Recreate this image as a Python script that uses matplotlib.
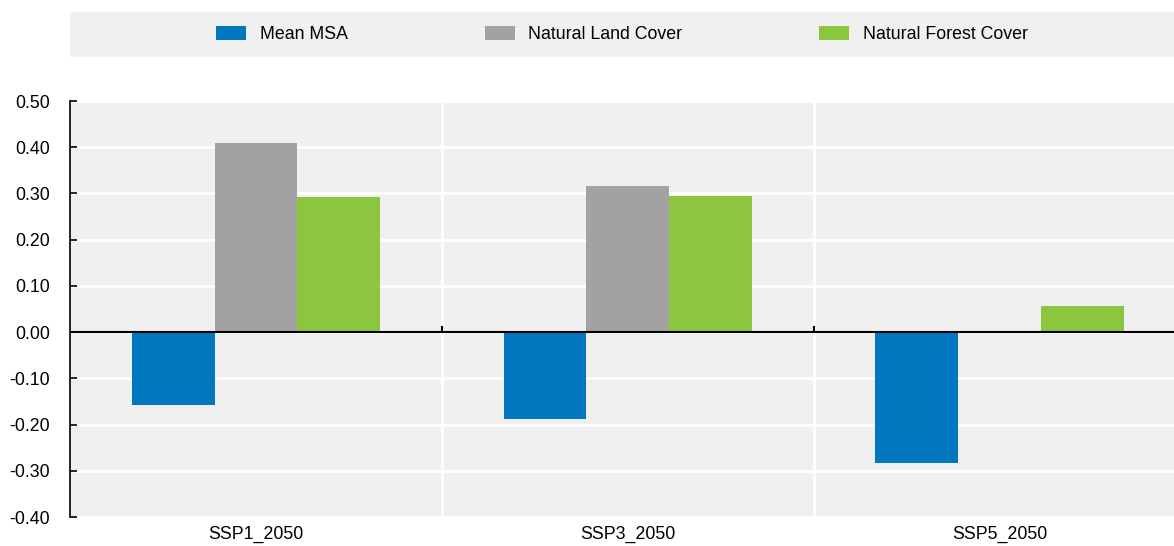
import matplotlib.pyplot as plt
import numpy as np
from matplotlib.patches import Patch

plt.rcParams['font.family'] = ['Liberation Sans', 'DejaVu Sans']

scenarios = ['SSP1_2050', 'SSP3_2050', 'SSP5_2050']
series = ['Mean MSA', 'Natural Land Cover', 'Natural Forest Cover']
mean_msa = [-0.157, -0.187, -0.283]
natural_land = [0.409, 0.317, 0.0]
natural_forest = [0.293, 0.294, 0.057]
colors = ['#0077be', '#a2a2a2', '#8cc63f']
bg = '#f0f0f0'
fs = 12.8

W, H = 1174, 546
fig = plt.figure(figsize=(W / 100, H / 100), dpi=100)

# main axes
ax = fig.add_axes([70 / W, (H - 517) / H, (W - 70) / W, 416 / H])
ax.set_facecolor(bg)

x = np.arange(len(scenarios))
bw = 0.223
for i, vals in enumerate([mean_msa, natural_land, natural_forest]):
    ax.bar(x + (i - 1) * bw, vals, bw, color=colors[i], zorder=3)

ax.set_xlim(-0.5, 2.468)
ax.set_ylim(-0.40, 0.50)
yt = np.round(np.arange(-0.4, 0.51, 0.1), 2)
ax.set_yticks(yt)
ax.set_yticklabels([f'{v + 0.0:.2f}' for v in yt], fontsize=fs)
ax.tick_params(axis='y', direction='in', length=5, width=1.2, pad=14.5)
ax.grid(axis='y', color='white', linewidth=2, zorder=1)
for b in [0.5, 1.5]:
    ax.axvline(b, color='white', linewidth=2, zorder=1)
    ax.plot([b, b], [0, 0.012], color='black', linewidth=1.5, zorder=4)
ax.axhline(0, color='black', linewidth=1.5, zorder=4)

ax.set_xticks(x)
ax.set_xticklabels(scenarios, fontsize=fs)
ax.tick_params(axis='x', length=0, pad=6)

for s in ['top', 'right', 'bottom']:
    ax.spines[s].set_visible(False)
ax.spines['left'].set_linewidth(1.2)

# legend strip
lax = fig.add_axes([70 / W, (H - 57) / H, (W - 70) / W, 45 / H])
lax.set_facecolor(bg)
lax.set_xticks([])
lax.set_yticks([])
for s in lax.spines.values():
    s.set_visible(False)
handles = [Patch(facecolor=c, edgecolor='none') for c in colors]
lax.legend(handles, series, loc='center', ncol=3, frameon=False, fontsize=fs,
           handlelength=1.7, handleheight=0.85, handletextpad=0.75, columnspacing=7.7,
           bbox_to_anchor=(0.5, 0.5))

fig.savefig('out.png', dpi=100)
